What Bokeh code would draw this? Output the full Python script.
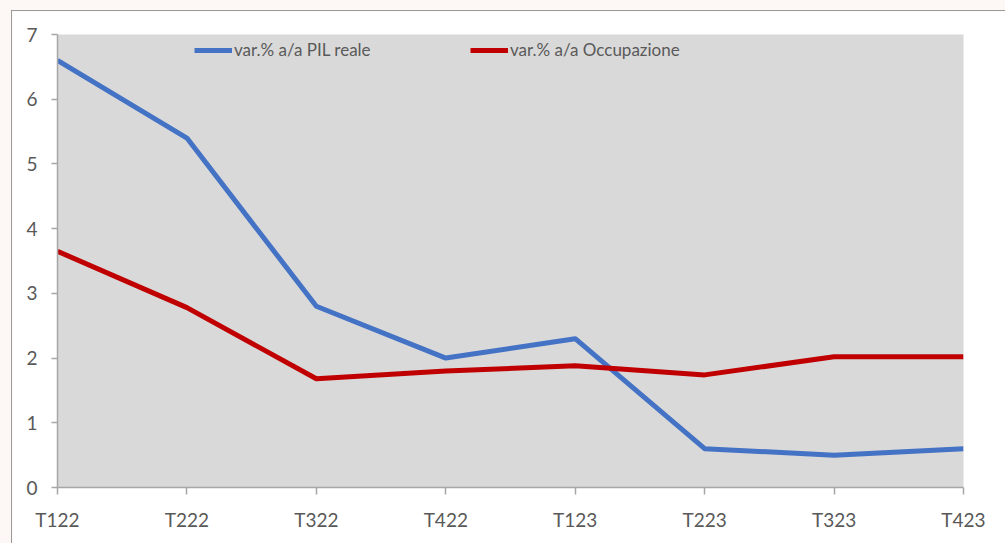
from bokeh.plotting import figure
from bokeh.layouts import column
from bokeh.models import Range1d, FixedTicker, Legend, LegendItem
from bokeh.embed import file_html
from bokeh.resources import INLINE

quarters = ["T122", "T222", "T322", "T422", "T123", "T223", "T323", "T423"]
pil = [6.6, 5.4, 2.8, 2.0, 2.3, 0.6, 0.5, 0.6]
occupazione = [3.65, 2.78, 1.68, 1.8, 1.88, 1.74, 2.02, 2.02]
series_names = ["var.% a/a PIL reale", "var.% a/a Occupazione"]
y_ticks = [0, 1, 2, 3, 4, 5, 6, 7]

xs = list(range(len(quarters)))
FONT = "Lato"
TXT = "#595959"
AX = "#a6a6a6"

p = figure(width=994, height=533, output_backend="svg", toolbar_location=None,
           x_range=Range1d(0, len(quarters) - 1), y_range=Range1d(0, 7),
           min_border_left=45, min_border_right=43, min_border_top=23, min_border_bottom=57,
           margin=(10, 0, 0, 11),
           styles={"border-top": "1px solid #9a9a9a", "border-left": "1px solid #9a9a9a"})
p.background_fill_color = "#d9d9d9"
p.border_fill_color = "white"
p.outline_line_color = None
p.xgrid.visible = False
p.ygrid.visible = False

r1 = p.line(xs, pil, line_color="#4472C4", line_width=5, line_join="round")
r2 = p.line(xs, occupazione, line_color="#C00000", line_width=5, line_join="round")

p.xaxis.ticker = FixedTicker(ticks=xs)
p.xaxis.major_label_overrides = {i: q for i, q in enumerate(quarters)}
p.yaxis.ticker = FixedTicker(ticks=y_ticks)
for ax in (p.xaxis, p.yaxis):
    ax.axis_line_color = AX
    ax.axis_line_width = 1.5
    ax.major_tick_line_color = AX
    ax.major_tick_line_width = 1.5
    ax.major_tick_in = 0
    ax.minor_tick_line_color = None
    ax.major_label_text_font = FONT
    ax.major_label_text_font_size = "19px"
    ax.major_label_text_color = TXT
p.xaxis.major_tick_out = 7
p.yaxis.major_tick_out = 6
p.xaxis.major_label_standoff = 13
p.yaxis.major_label_standoff = 14

for rend, name, loc in ((r1, series_names[0], (137, 427)), (r2, series_names[1], (413, 427))):
    lg = Legend(items=[LegendItem(label=name, renderers=[rend])], location=loc,
                glyph_width=38, glyph_height=20, label_standoff=2, padding=0, margin=0,
                background_fill_alpha=0, border_line_color=None,
                label_text_font=FONT, label_text_font_size="17px", label_text_color=TXT)
    p.add_layout(lg, "center")

layout = column(p, styles={"background-color": "#fdf8f6"})
open("out.html", "w").write(file_html(layout, INLINE))
